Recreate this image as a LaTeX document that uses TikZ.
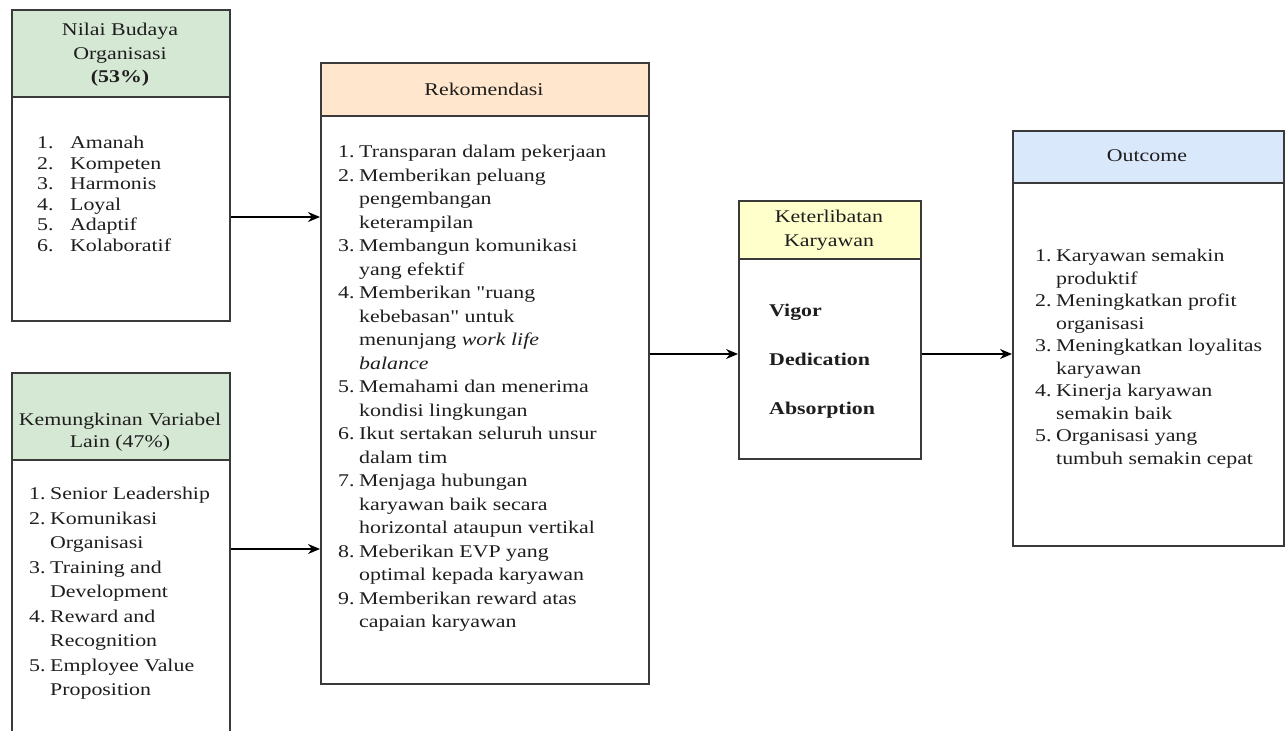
\documentclass[tikz,border=0pt]{standalone}
\usepackage{fontspec}
\setmainfont{Liberation Serif}[FakeStretch=1.22,Ligatures=TeXOff]
\usetikzlibrary{arrows.meta}
\definecolor{bordc}{HTML}{3A3A3A}
\definecolor{txtc}{HTML}{1E1E1E}
\definecolor{greenh}{HTML}{D5E8D4}
\definecolor{orangeh}{HTML}{FFE6CC}
\definecolor{yellowh}{HTML}{FFFFCC}
\definecolor{blueh}{HTML}{DAE8FC}
\newcommand\nm[1]{\makebox[21bp][l]{#1}}
\newcommand\hi{\hspace*{21bp}}
\newcommand\nmw[1]{\makebox[33bp][l]{#1}}
\begin{document}
\begin{tikzpicture}[x=1bp,y=-1bp,
  panel/.style={draw=bordc, line width=1.6bp, fill=white, anchor=north west, inner sep=0pt},
  head/.style={draw=bordc, line width=1.6bp, anchor=north west, inner sep=0pt},
  ttl/.style={text=txtc, align=center, inner sep=0pt, font=\fontsize{18}{22.5}\selectfont},
  lst/.style={text=txtc, align=left, anchor=north west, inner sep=0pt},
  arr/.style={draw=black, line width=1.3bp, -{Stealth[length=12bp,width=10bp]}}]
\useasboundingbox (0,0) rectangle (1286,731);
\fill[white] (0,0) rectangle (1286,731);
\clip (0,0) rectangle (1286,731);

% boxes
\node[panel, minimum width=218bp, minimum height=311bp] (nilai) at (11,9) {};
\node[head, fill=greenh, minimum width=218bp, minimum height=87bp] (nilaih) at (11,9) {};
\node[panel, minimum width=218bp, minimum height=400bp] (kem) at (11,372) {};
\node[head, fill=greenh, minimum width=218bp, minimum height=87bp] (kemh) at (11,372) {};
\node[panel, minimum width=328bp, minimum height=621bp] (rek) at (320,62) {};
\node[head, fill=orangeh, minimum width=328bp, minimum height=53bp] (rekh) at (320,62) {};
\node[panel, minimum width=182bp, minimum height=258bp] (ket) at (738,200) {};
\node[head, fill=yellowh, minimum width=182bp, minimum height=58bp] (keth) at (738,200) {};
\node[panel, minimum width=271bp, minimum height=415bp] (out) at (1012,130) {};
\node[head, fill=blueh, minimum width=271bp, minimum height=52bp] (outh) at (1012,130) {};

% titles
\node[ttl, font=\fontsize{18}{23.5}\selectfont] (nilait) at (120,55) {Nilai Budaya\\Organisasi\\\textbf{(53\%)}};
\node[ttl] (kemt) at (120,432) {Kemungkinan Variabel\\Lain (47\%)};
\node[ttl] (rekt) at (484,89) {Rekomendasi};
\node[ttl, font=\fontsize{18}{24}\selectfont] (kett) at (829,230) {Keterlibatan\\Karyawan};
\node[ttl] (outt) at (1147,156) {Outcome};

% lists
\node[lst, font=\fontsize{18}{20.6}\selectfont] (nilail) at (37,136)
  {\nmw{1.}Amanah\\\nmw{2.}Kompeten\\\nmw{3.}Harmonis\\\nmw{4.}Loyal\\\nmw{5.}Adaptif\\\nmw{6.}Kolaboratif};
\node[lst, font=\fontsize{18}{24.6}\selectfont] (keml) at (29,487)
  {\nm{1.}Senior Leadership\\\nm{2.}Komunikasi\\\hi Organisasi\\\nm{3.}Training and\\\hi Development\\\nm{4.}Reward and\\\hi Recognition\\\nm{5.}Employee Value\\\hi Proposition};
\node[lst, font=\fontsize{18}{23.6}\selectfont] (rekl) at (338,145)
  {\nm{1.}Transparan dalam pekerjaan\\
   \nm{2.}Memberikan peluang\\\hi pengembangan\\\hi keterampilan\\
   \nm{3.}Membangun komunikasi\\\hi yang efektif\\
   \nm{4.}Memberikan "ruang\\\hi kebebasan" untuk\\\hi menunjang \textit{work life}\\\hi \textit{balance}\\
   \nm{5.}Memahami dan menerima\\\hi kondisi lingkungan\\
   \nm{6.}Ikut sertakan seluruh unsur\\\hi dalam tim\\
   \nm{7.}Menjaga hubungan\\\hi karyawan baik secara\\\hi horizontal ataupun vertikal\\
   \nm{8.}Meberikan EVP yang\\\hi optimal kepada karyawan\\
   \nm{9.}Memberikan reward atas\\\hi capaian karyawan};
\node[lst, font=\bfseries\fontsize{18}{49}\selectfont] (ketl) at (769,304)
  {Vigor\\Dedication\\Absorption};
\node[lst, font=\fontsize{18}{22.6}\selectfont] (outl) at (1035,249)
  {\nm{1.}Karyawan semakin\\\hi produktif\\
   \nm{2.}Meningkatkan profit\\\hi organisasi\\
   \nm{3.}Meningkatkan loyalitas\\\hi karyawan\\
   \nm{4.}Kinerja karyawan\\\hi semakin baik\\
   \nm{5.}Organisasi yang\\\hi tumbuh semakin cepat};

% connectors
\coordinate (a1) at (0,217);
\coordinate (a2) at (0,549);
\coordinate (a3) at (0,354);
\draw[arr] (nilai.east |- a1) -- (rek.west |- a1);
\draw[arr] (kem.east |- a2) -- (rek.west |- a2);
\draw[arr] (rek.east |- a3) -- (ket.west |- a3);
\draw[arr] (ket.east |- a3) -- (out.west |- a3);
\end{tikzpicture}
\end{document}
